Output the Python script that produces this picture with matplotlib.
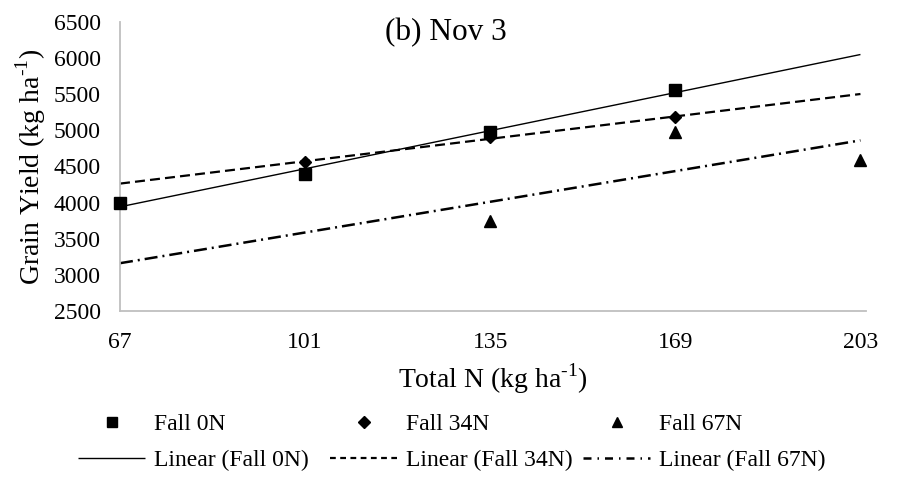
import numpy as np
import matplotlib
matplotlib.use("Agg")
import matplotlib.pyplot as plt
from matplotlib.lines import Line2D

plt.rcParams['font.family'] = ['Liberation Serif', 'DejaVu Serif']
plt.rcParams['mathtext.fontset'] = 'custom'
plt.rcParams['mathtext.rm'] = 'Liberation Serif'

# categories on x axis (Total N, kg/ha)
total_n = ["67", "101", "135", "169", "203"]

# grain yield per series, None = no value
fall_0n = [4000, 4390, 4980, 5560, None]
fall_34n = [None, 4560, 4910, 5180, None]
fall_67n = [None, None, 3740, 4980, 4590]

series = [
    ("Fall 0N", fall_0n, "s", (0, ()), 1.0, (0, ())),
    ("Fall 34N", fall_34n, "D", (0, (4.5, 2.3)), 1.6, (0, (2.6, 2.0))),
    ("Fall 67N", fall_67n, "^", (0, (5.2, 2.0, 0.8, 2.0)), 1.8, (0, (3.2, 2.4, 0.6, 2.4))),
]
msize = {"s": 8, "D": 6.5, "^": 8.5}
leg_x = [78, 330, 583]  # legend column starts, px

W, H = 904, 482
fig = plt.figure(figsize=(W / 100, H / 100), dpi=100)
ax = fig.add_axes([120 / W, 1 - 311 / H, 746 / W, 289 / H])

pos = np.arange(len(total_n))
for i, (name, vals, mk, ls, lw, lls) in enumerate(series):
    x = np.array([p for p, v in zip(pos, vals) if v is not None])
    y = np.array([v for v in vals if v is not None])
    # Excel-style linear trendline over category index, drawn across the whole axis
    k, b = np.polyfit(x, y, 1)
    ax.plot(pos, k * pos + b, color="black", linestyle=ls, linewidth=lw, zorder=2)
    ax.plot(x, y, linestyle="none", marker=mk, markersize=msize[mk],
            color="black", clip_on=False, zorder=3)
    hm = Line2D([], [], linestyle="none", marker=mk,
                markersize=msize[mk] * 0.9, color="black")
    hl = Line2D([], [], color="black", linestyle=lls, linewidth=lw)
    leg = fig.legend(handles=[hm, hl], labels=[name, "Linear (%s)" % name],
                     loc="center left", bbox_to_anchor=(leg_x[i] / W, 1 - 442.5 / H),
                     frameon=False, fontsize=17, handlelength=2.85, handletextpad=0.38,
                     borderpad=0, borderaxespad=0, labelspacing=0.62)

ax.set_xlim(0, 4.03)
ax.set_ylim(2500, 6500)
ax.set_yticks(np.arange(2500, 6501, 500))
ax.set_xticks(pos)
ax.set_xticklabels(total_n)
ax.tick_params(axis="both", length=0, labelsize=17, colors="black")
ax.tick_params(axis="x", pad=15)
ax.tick_params(axis="y", pad=14)
for s in ["top", "right"]:
    ax.spines[s].set_visible(False)
for s in ["left", "bottom"]:
    ax.spines[s].set_color("#bfbfbf")
    ax.spines[s].set_linewidth(1.3)

sup = "$^{\\mathregular{\u20101}}$"
ax.set_ylabel("Grain Yield (kg ha" + sup + ")", fontsize=20, labelpad=4)
ax.set_xlabel("Total N (kg ha" + sup + ")", fontsize=20, labelpad=6)
ax.text(0.355, 0.962, "(b) Nov 3", transform=ax.transAxes, ha="left", va="center", fontsize=22.5)

fig.savefig("out.png", dpi=100)
